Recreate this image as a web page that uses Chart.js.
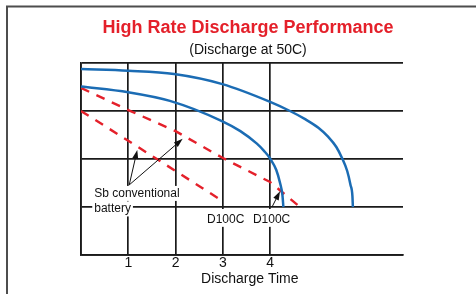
<!DOCTYPE html>
<html>
<head>
<meta charset="utf-8">
<script src="https://cdn.jsdelivr.net/npm/chart.js@4"></script>
<style>
  html, body { margin: 0; padding: 0; background: #fff; }
  #wrap { width: 476px; height: 294px; }
</style>
</head>
<body>
<div id="wrap"><canvas id="discharge" width="476" height="294"></canvas></div>
<script>
// high rate discharge curves

const timeTicks = [0, 1, 2, 3, 4];
const timeMax = 6.81;
const levelMax = 4;

// D100C (blue, solid)
const d100cLongTime  = [0, 1, 1.97, 2.99, 4, 4.42, 4.74, 5.02, 5.23, 5.40, 5.52, 5.63, 5.70, 5.74, 5.75];
const d100cLongLevel = [3.875, 3.84, 3.77, 3.56, 3.19, 3.0, 2.83, 2.65, 2.46, 2.25, 2.02, 1.75, 1.46, 1.23, 1.0];

const d100cShortTime  = [0, 1, 1.88, 2.98, 3.37, 3.72, 3.87, 4.0, 4.13, 4.21, 4.26, 4.28];
const d100cShortLevel = [3.51, 3.39, 3.21, 2.79, 2.58, 2.32, 2.17, 2.01, 1.77, 1.5, 1.25, 1.0];

// Sb conventional battery (red, dashed)
const sbLongTime  = [0, 1, 2, 3, 4, 4.63];
const sbLongLevel = [3.48, 3.02, 2.58, 2.02, 1.52, 1.0];

const sbShortTime  = [0, 1, 2, 2.92];
const sbShortLevel = [3.0, 2.38, 1.75, 1.17];

// callouts, in data units
const sbLabelAt = [0.28, 1.21];
const sbArrowTail = [1.02, 1.46];
const sbArrowHeads = [[1.19, 2.19], [2.15, 2.42]];
const d100cLabelX = [3.06, 4.03];
const d100cLabelY = 0.67;
const d100cArrow = [[4.04, 1.0], [4.21, 1.33]];

const FONT = "'Liberation Sans', Arial, Helvetica, sans-serif";
const RED = '#e4202a';
const BLUE = '#1b6cb4';
const INK = '#1a1a1a';

function pts(xs, ys) {
  return xs.map((x, i) => ({ x: x, y: ys[i] }));
}

function arrow(c, x0, y0, x1, y1) {
  const a = Math.atan2(y1 - y0, x1 - x0);
  const len = 9, half = 3;
  c.beginPath();
  c.moveTo(x0, y0);
  c.lineTo(x1 - Math.cos(a) * len * 0.8, y1 - Math.sin(a) * len * 0.8);
  c.stroke();
  c.beginPath();
  c.moveTo(x1, y1);
  c.lineTo(x1 - Math.cos(a) * len - Math.sin(a) * half, y1 - Math.sin(a) * len + Math.cos(a) * half);
  c.lineTo(x1 - Math.cos(a) * len + Math.sin(a) * half, y1 - Math.sin(a) * len - Math.cos(a) * half);
  c.closePath();
  c.fill();
}

function boxedText(c, txt, x, y, align) {
  c.textAlign = align;
  const w = c.measureText(txt).width;
  const left = align === 'center' ? x - w / 2 : x;
  c.fillStyle = '#fff';
  c.fillRect(left - 2, y - 11, w + 4, 15);
  c.fillStyle = '#111';
  c.fillText(txt, x, y);
}

const callouts = {
  id: 'callouts',
  beforeDraw(chart) {
    const c = chart.ctx;
    c.save();
    c.fillStyle = '#fff';
    c.fillRect(0, 0, chart.width, chart.height);
    // outer frame (only top and left show in the crop)
    c.strokeStyle = '#4d4d4d';
    c.lineWidth = 2;
    c.beginPath();
    c.moveTo(7, chart.height);
    c.lineTo(7, 6.5);
    c.lineTo(chart.width, 6.5);
    c.stroke();
    c.restore();
  },
  afterDatasetsDraw(chart) {
    const c = chart.ctx;
    const sx = chart.scales.x, sy = chart.scales.y;
    const X = v => sx.getPixelForValue(v);
    const Y = v => sy.getPixelForValue(v);
    c.save();
    c.font = '12px ' + FONT;
    c.textBaseline = 'alphabetic';

    // Sb conventional battery
    boxedText(c, 'Sb conventional', X(sbLabelAt[0]), Y(sbLabelAt[1]), 'left');
    boxedText(c, 'battery', X(sbLabelAt[0]), Y(sbLabelAt[1]) + 15.5, 'left');

    // D100C labels
    d100cLabelX.forEach(v => {
      c.fillStyle = '#fff';
      c.fillRect(X(v) - 20, Y(1.0) + 2, 40, Y(d100cLabelY) - Y(1.0) + 2);
      c.fillStyle = '#111';
      c.textAlign = 'center';
      c.fillText('D100C', X(v), Y(d100cLabelY));
    });

    c.strokeStyle = '#111';
    c.fillStyle = '#111';
    c.lineWidth = 1;
    sbArrowHeads.forEach(h => {
      arrow(c, X(sbArrowTail[0]), Y(sbArrowTail[1]), X(h[0]), Y(h[1]));
    });
    arrow(c, X(d100cArrow[0][0]), Y(d100cArrow[0][1]), X(d100cArrow[1][0]), Y(d100cArrow[1][1]));
    c.restore();
  }
};

const blueLine = {
  borderColor: BLUE,
  borderWidth: 2.5,
  pointRadius: 0,
  fill: false,
  cubicInterpolationMode: 'monotone'
};
const redLine = {
  borderColor: RED,
  borderWidth: 2.4,
  borderDash: [9, 8],
  pointRadius: 0,
  fill: false,
  tension: 0
};

const dischargeData = {
  datasets: [
    Object.assign({ label: 'D100C', data: pts(d100cLongTime, d100cLongLevel) }, blueLine),
    Object.assign({ label: 'D100C', data: pts(d100cShortTime, d100cShortLevel) }, blueLine),
    Object.assign({ label: 'Sb conventional battery', data: pts(sbLongTime, sbLongLevel) }, redLine),
    Object.assign({ label: 'Sb conventional battery', data: pts(sbShortTime, sbShortLevel) }, redLine)
  ]
};

const gridStyle = { color: INK, lineWidth: 1.7, drawTicks: false };
const borderStyle = { color: INK, width: 1.7 };

const dischargeChart = {
  type: 'line',
  data: dischargeData,
  plugins: [callouts],
  options: {
    responsive: false,
    animation: false,
    layout: { padding: { left: 20, right: 0, top: 0, bottom: 0 } },
    plugins: {
      legend: { display: false },
      tooltip: { enabled: false },
      title: {
        display: true,
        text: 'High Rate Discharge Performance',
        color: RED,
        font: { family: FONT, size: 18, weight: 'bold', lineHeight: 1.2 },
        padding: { top: 17, bottom: 0 }
      },
      subtitle: {
        display: true,
        text: '(Discharge at 50C)',
        color: '#111',
        font: { family: FONT, size: 14, lineHeight: 1.2 },
        padding: { top: 3, bottom: 4.6 }
      }
    },
    scales: {
      x: {
        type: 'linear',
        min: 0,
        max: timeMax,
        grid: gridStyle,
        border: borderStyle,
        afterBuildTicks: s => { s.ticks = timeTicks.map(v => ({ value: v })); },
        afterFit: s => { s.height = 39; },
        ticks: {
          padding: 0,
          color: '#111',
          font: { family: FONT, size: 14 },
          callback: v => (v === 0 ? '' : v)
        },
        title: {
          display: true,
          text: '    Discharge Time',
          color: '#111',
          font: { family: FONT, size: 14, lineHeight: 1.2 },
          padding: { top: 0, bottom: 6 }
        }
      },
      y: {
        min: 0,
        max: levelMax,
        grid: gridStyle,
        border: borderStyle,
        ticks: { stepSize: 1, display: false },
        afterFit: s => { s.width = 61; }
      },
      y2: {
        position: 'right',
        grid: { display: false },
        border: { display: false },
        ticks: { display: false },
        afterFit: s => { s.width = 73; }
      }
    }
  }
};

var myDischargeChart = new Chart(
  document.getElementById('discharge'),
  dischargeChart
);
</script>
</body>
</html>
